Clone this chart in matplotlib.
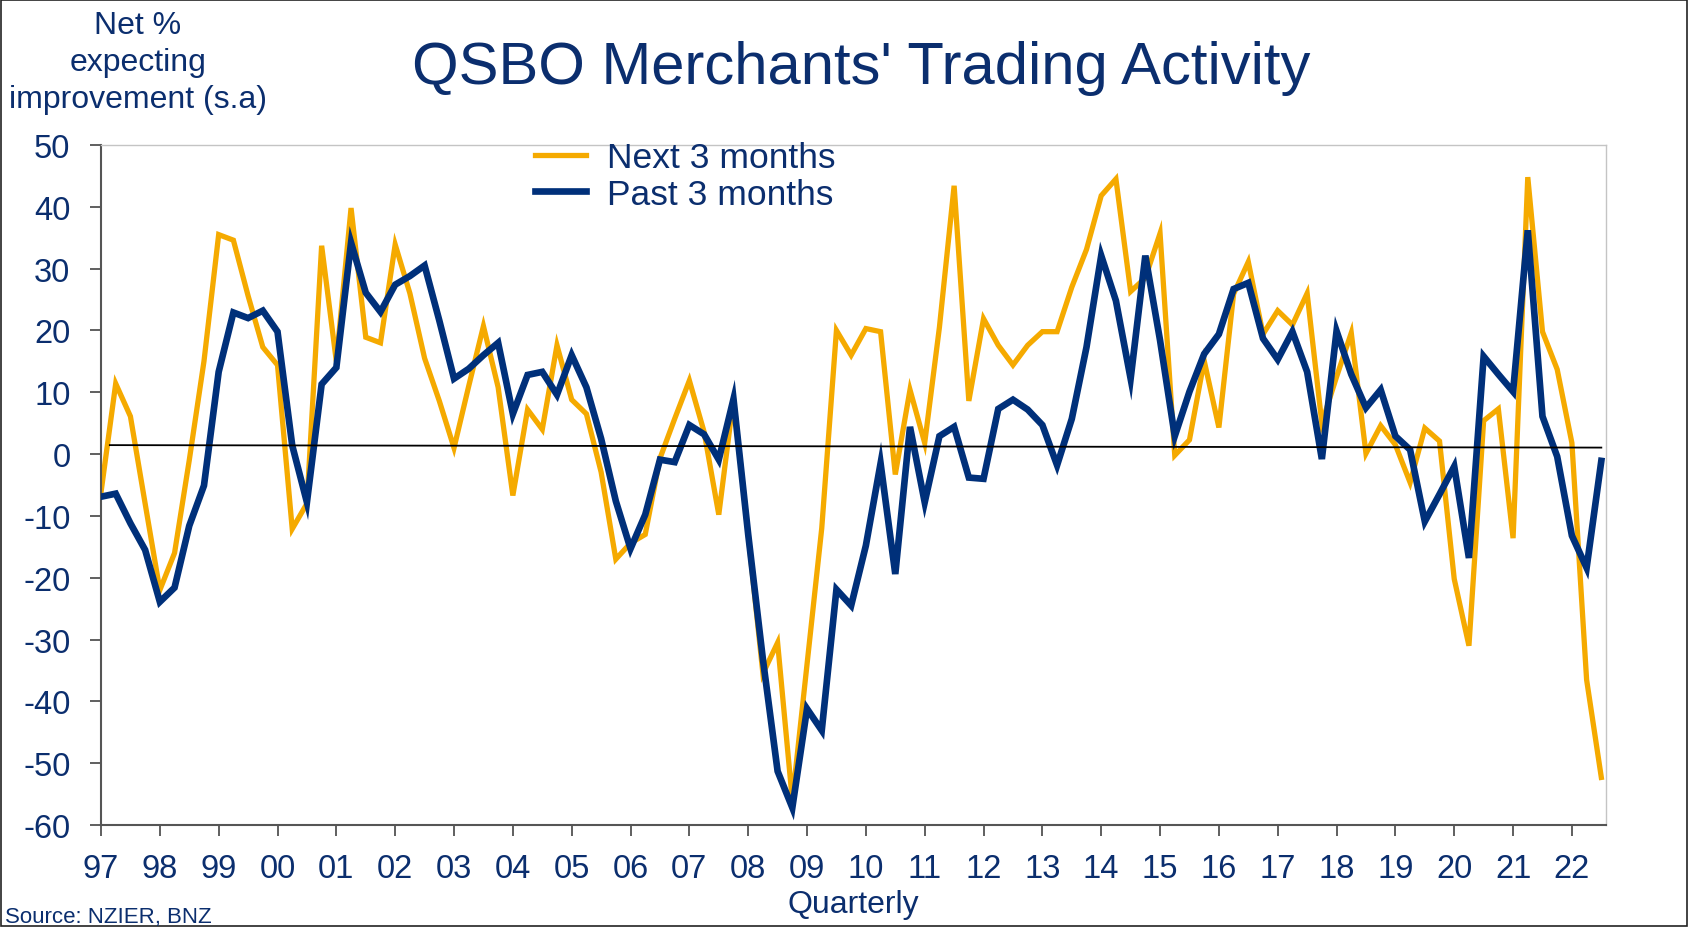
import matplotlib.pyplot as plt
from matplotlib.patches import Rectangle

# QSBO merchants, net % expecting improvement (s.a), quarterly 1997Q1 - 2022Q3
next_3m = [-6.2, 11.4, 6.1, -8, -22, -16, -1, 15, 35.5, 34.6, 25.6, 17.3, 14.4, -12.1, -8, 33.7,
           15, 39.8, 18.9, 18, 33.9, 26, 15.5, 8.6, 1.0, 11, 20.7, 10.8, -6.7, 7.2, 4, 17.6,
           8.8, 6.5, -2.9, -17, -14.4, -13, -0.7, 5.7, 11.9, 3.6, -9.8, 9, -13, -35.5, -30.5, -56,
           -34, -12, 20, 16, 20.3, 19.8, -3.3, 10.4, 1.8, 20.5, 43.4, 8.6, 21.9, 17.6, 14.4, 17.6,
           19.8, 19.8, 27, 33.1, 41.8, 44.5, 26.3, 28.5, 35.7, -0.2, 2.3, 15.1, 4.3, 25.9, 31.1, 19.4,
           23.2, 20.9, 26, 5, 12.5, 19.6, 0.1, 4.6, 1.5, -4.6, 4.2, 2.1, -20.2, -31, 5.4, 7.3,
           -13.6, 44.8, 19.8, 13.7, 1.8, -36.5, -52.3]
past_3m = [-6.9, -6.4, -11.2, -15.5, -23.9, -21.6, -11.6, -5.1, 13.3, 22.9, 22, 23.2, 19.8, 1.4, -7.8, 11.3,
           14, 34.2, 26.1, 23, 27.4, 28.8, 30.5, 21.6, 12.2, 13.8, 16, 18, 6.5, 12.8, 13.3, 9.6,
           16, 10.8, 2.5, -7.6, -15.3, -9.8, -0.9, -1.3, 4.7, 3.2, -0.9, 8.9, -13, -33.2, -51.3, -57.2,
           -41.2, -44.7, -21.9, -24.5, -14.8, -1.5, -19.4, 4.4, -7.8, 2.9, 4.4, -3.8, -4, 7.3, 8.8, 7.2,
           4.7, -1.8, 5.7, 17.3, 32.1, 24.8, 12.2, 32.1, 18.4, 2.9, 10.1, 16.2, 19.4, 26.7, 27.7, 18.7,
           15.3, 19.8, 13.3, -0.8, 19.9, 12.9, 7.5, 10.4, 2.9, 0.7, -10.9, -6.5, -2, -16.8, 15.8, 12.9,
           10.1, 36.2, 6.1, -0.4, -13.2, -18.4, -1.1]
avg_x = [0.6, 102]
avg_y = [1.45, 1.05]
years = list(range(1997, 2023))
year_labels = ['%02d' % (y % 100) for y in years]

navy = '#0b2e6e'
line_navy = '#00307a'
gold = '#f5aa00'

plt.rcParams['font.family'] = ['Liberation Sans', 'DejaVu Sans']
plt.rcParams['axes.unicode_minus'] = False

fig = plt.figure(figsize=(16.89, 9.28), dpi=100)
ax = fig.add_axes([0.0598, 0.1099, 0.8909, 0.7328])

q = list(range(len(next_3m)))
ax.plot(q, next_3m, color=gold, lw=3.8, label='Next 3 months', solid_joinstyle='miter', zorder=2)
ax.plot(q, past_3m, color=line_navy, lw=4.8, label='Past 3 months', solid_joinstyle='miter', zorder=3)
ax.plot(avg_x, avg_y, color='black', lw=1.3, zorder=4)

ax.set_xlim(0, 102.3)
ax.set_ylim(-60, 50)
ax.set_yticks(range(-60, 51, 10))
ax.set_xticks([4 * i for i in range(len(years))])
ax.set_xticklabels(year_labels)

for lab in ax.get_xticklabels() + ax.get_yticklabels():
    lab.set_fontsize(23.5)
    lab.set_color(navy)
ax.tick_params(axis='y', direction='out', length=8, width=1.2, color='#444444', pad=14)
ax.tick_params(axis='x', direction='out', length=8, width=1.2, color='#444444', pad=12)

for side in ['left', 'bottom']:
    ax.spines[side].set_color('#555555')
    ax.spines[side].set_linewidth(1.5)
for side in ['top', 'right']:
    ax.spines[side].set_color('#c4c4c4')
    ax.spines[side].set_linewidth(1.0)

fig.legend(loc='upper left', bbox_to_anchor=(0.306, 0.866), frameon=False, fontsize=25.5,
           handlelength=1.45, handletextpad=0.6, labelspacing=0.1, borderpad=0,
           labelcolor=navy)

fig.text(0.510, 0.926, "QSBO Merchants' Trading Activity", ha='center', va='center',
         fontsize=43, color=navy)
fig.text(0.0817, 0.932, 'Net %\nexpecting\nimprovement (s.a)', ha='center', va='center',
         multialignment='center', fontsize=23, color=navy, linespacing=1.3)
fig.text(0.505, 0.025, 'Quarterly', ha='center', va='center', fontsize=23, color=navy)
fig.text(0.003, 0.011, 'Source: NZIER, BNZ', ha='left', va='center', fontsize=16, color=navy)

fig.patches.append(Rectangle((0.0005, 0.001), 0.9985, 0.998, transform=fig.transFigure,
                             fill=False, edgecolor='#222222', lw=1.2))

fig.savefig('out.png', dpi=100)
